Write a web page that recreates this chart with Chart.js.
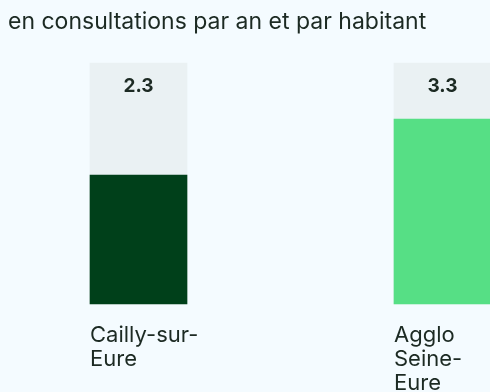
<!DOCTYPE html>
<html>
    <head>
        <meta charset="UTF-8" />
        <script src="https://cdn.jsdelivr.net/npm/chart.js"></script>
        <style>
            html, body { margin: 0; padding: 0; background: #f4fbff; overflow: hidden; }
            .wrap { position: relative; width: 490px; height: 392px; }
        </style>
    </head>
    <body>
        <div class="wrap">
            <canvas id="myChart" width="490" height="392"></canvas>
        </div>
        <script>
            // données
            var titre = 'en consultations par an et par habitant';
            var territoires = [['Cailly-sur-', 'Eure'], ['Agglo', 'Seine-', 'Eure']];
            var consultations = [2.3, 3.3];
            var fond = [4.3, 4.3];
            var couleurs = ['#00401a', '#56df85'];

            var texte = '#1c2a23';

            // valeurs écrites en haut de la colonne grise
            var etiquettes = {
                id: 'etiquettes',
                afterDatasetsDraw: function(chart) {
                    var ctx = chart.ctx;
                    var meta = chart.getDatasetMeta(0);
                    var y = chart.scales.y.getPixelForValue(fond[0]) + 23;
                    ctx.save();
                    ctx.font = 'bold 19px Inter';
                    ctx.fillStyle = texte;
                    ctx.textAlign = 'center';
                    ctx.textBaseline = 'middle';
                    meta.data.forEach(function(bar, i) {
                        ctx.fillText(String(consultations[i]), bar.x, y);
                    });
                    ctx.restore();
                }
            };

            var ctx = document.getElementById('myChart').getContext('2d');
            var myChart = new Chart(ctx, {
                type: 'bar',
                data: {
                    labels: territoires,
                    datasets: [{
                        data: consultations,
                        backgroundColor: couleurs,
                        barThickness: 97
                    }, {
                        data: fond,
                        backgroundColor: '#eaf1f3',
                        barThickness: 97
                    }]
                },
                options: {
                    responsive: false,
                    animation: false,
                    datasets: { bar: { grouped: false, clip: false } },
                    layout: { padding: { left: 8, right: 47.5, top: 0, bottom: 0 } },
                    plugins: {
                        legend: { display: false },
                        tooltip: { enabled: false },
                        title: {
                            display: true,
                            text: titre,
                            align: 'start',
                            color: texte,
                            font: { family: 'Inter', size: 23, weight: 'normal', lineHeight: 1.2 },
                            padding: { top: 8, bottom: 27.4 }
                        }
                    },
                    scales: {
                        x: {
                            offset: false,
                            grid: { display: false, drawTicks: false },
                            border: { display: false },
                            ticks: {
                                align: 'start',
                                labelOffset: -48.5,
                                padding: 19,
                                maxRotation: 0,
                                autoSkip: false,
                                color: texte,
                                font: { family: 'Inter', size: 22, lineHeight: 24 / 22 }
                            },
                            afterFit: function(scale) {
                                scale.height = 88;
                                scale.paddingLeft = 0;
                                scale.paddingRight = 0;
                            }
                        },
                        y: {
                            min: 0,
                            max: 4.3,
                            grid: { display: false },
                            border: { display: false },
                            ticks: { display: false },
                            afterFit: function(scale) { scale.width = 130.5; }
                        }
                    }
                },
                plugins: [etiquettes]
            });
        </script>
    </body>
</html>
